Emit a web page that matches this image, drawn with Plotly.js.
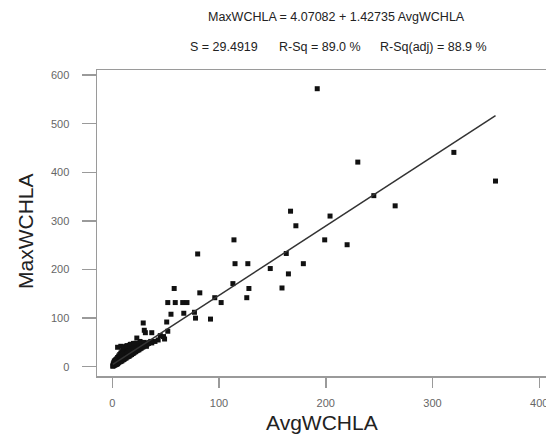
<!DOCTYPE html>
<html>
<head>
<meta charset="utf-8">
<script src="https://cdn.plot.ly/plotly-3.0.1.min.js"></script>
<style>
  html, body { margin: 0; padding: 0; background: #fff; }
  #chart { width: 546px; height: 434px; }
</style>
</head>
<body>
<div id="chart"></div>
<script>
// Observed chlorophyll-a: average vs. maximum per site
const avgWCHLA = [
  // larger values
  192, 230, 245, 320, 359, 265, 167, 204, 172, 114, 199, 220, 80, 163,
  115, 127, 179, 148, 165, 113, 58, 128, 159, 82, 96, 126,
  52, 59, 66, 70, 102, 55, 67, 77, 78, 92, 51, 52,
  29, 30, 31, 37, 23, 45, 49, 43, 40, 37, 32, 48, 26,
  // dense low-range cluster
  0.5, 0.8, 1, 1, 1.5, 1.5, 2, 2, 2, 2.5, 2.5, 3, 3, 3, 3.5, 3.5,
  4, 4, 4, 4.5, 4.5, 5, 5, 5, 5.5, 5.5, 6, 6, 6, 6.5, 6.5,
  7, 7, 7, 7.5, 7.5, 8, 8, 8, 8.5, 8.5, 9, 9, 9, 9.5, 9.5,
  10, 10, 10, 10.5, 10.5, 11, 11, 11, 11.5, 11.5, 12, 12, 12, 12.5, 12.5,
  13, 13, 13, 13.5, 13.5, 14, 14, 14, 15, 15, 15, 16, 16, 16,
  17, 17, 17, 18, 18, 18, 19, 19, 19, 20, 20, 20, 21, 21,
  22, 22, 22, 23, 23, 24, 24, 25, 25, 26, 26, 27, 27, 28, 28,
  29, 30, 30, 31, 32, 33, 34, 35, 36,
  5, 8, 11, 14, 17, 20
];
const maxWCHLA = [
  572, 421, 352, 441, 382, 331, 320, 310, 290, 261, 261, 251, 232, 233,
  212, 212, 212, 202, 191, 171, 161, 161, 162, 152, 142, 142,
  132, 132, 132, 132, 132, 108, 110, 112, 100, 98, 92, 73,
  90, 75, 70, 70, 59, 64, 57, 55, 52, 49, 42, 62, 52,
  1, 3, 2, 6, 4, 9, 3, 7, 12, 5, 10, 4, 8, 14, 6, 11,
  5, 9, 16, 7, 13, 6, 10, 19, 8, 15, 9, 13, 22, 11, 17,
  10, 14, 25, 12, 19, 11, 16, 28, 13, 21, 12, 18, 31, 15, 24,
  14, 20, 34, 16, 27, 15, 22, 37, 18, 29, 17, 24, 40, 20, 31,
  18, 26, 42, 22, 34, 20, 28, 43, 21, 30, 38, 22, 32, 44,
  24, 35, 41, 25, 37, 46, 27, 33, 44, 28, 38, 47, 30, 42,
  31, 36, 48, 33, 44, 34, 40, 35, 47, 37, 43, 38, 49, 40, 45,
  41, 43, 50, 44, 46, 47, 48, 50, 52,
  40, 42, 41, 43, 46, 48
];

// Least-squares fit reported for these data
const fitIntercept = 4.07082;
const fitSlope = 1.42735;
const fitTitle = "MaxWCHLA = 4.07082 + 1.42735 AvgWCHLA";
const fitStats = ["S = 29.4919", "R-Sq = 89.0 %", "R-Sq(adj) = 88.9 %"];

const xTicks = [0, 100, 200, 300, 400];
const yTicks = [0, 100, 200, 300, 400, 500, 600];

const xMin = Math.min(...avgWCHLA);
const xMax = Math.max(...avgWCHLA);
const lineX = [xMin, xMax];
const lineY = lineX.map(v => fitIntercept + fitSlope * v);

const FONT = "Arial, 'Liberation Sans', sans-serif";
const FRAME = "#9a9a9a";

const traces = [
  {
    type: "scatter", mode: "markers",
    x: avgWCHLA, y: maxWCHLA,
    marker: { symbol: "square", size: 5, color: "#111" },
    hoverinfo: "x+y"
  },
  {
    type: "scatter", mode: "lines",
    x: lineX, y: lineY,
    line: { color: "#333", width: 1.5 },
    hoverinfo: "skip"
  }
];

// plot area spans x 97..546 px, y 70..376 px
const L = 97, R = 546, T = 70, B = 376;
const px = v => (v - L) / (R - L);
const py = v => (B - v) / (B - T);

const annotations = [
  { text: fitTitle, x: px(336), y: py(17), xanchor: "center", yanchor: "middle",
    font: { size: 12.5, color: "#222", family: FONT } },
  { text: fitStats[0], x: px(188), y: py(47), xanchor: "left", yanchor: "middle",
    font: { size: 12.5, color: "#222", family: FONT } },
  { text: fitStats[1], x: px(277), y: py(47), xanchor: "left", yanchor: "middle",
    font: { size: 12.5, color: "#222", family: FONT } },
  { text: fitStats[2], x: px(378), y: py(47), xanchor: "left", yanchor: "middle",
    font: { size: 12.5, color: "#222", family: FONT } },
  { text: "AvgWCHLA", x: px(322), y: py(423), xanchor: "center", yanchor: "middle",
    font: { size: 21, color: "#222", family: FONT } },
  { text: "MaxWCHLA", x: px(25), y: py(231), xanchor: "center", yanchor: "middle",
    textangle: -90, font: { size: 21, color: "#222", family: FONT } }
].map(a => Object.assign({ xref: "paper", yref: "paper", showarrow: false }, a));

const layout = {
  width: 546, height: 434,
  margin: { l: L, r: 546 - R, t: T, b: 434 - B, pad: 0 },
  paper_bgcolor: "#fff", plot_bgcolor: "#fff",
  showlegend: false,
  font: { family: FONT },
  xaxis: {
    range: [-14.3, 406.3], tickvals: xTicks, ticktext: xTicks.map(String),
    ticks: "outside", ticklen: 10, tickwidth: 1.5, tickcolor: FRAME,
    showline: true, linecolor: FRAME, linewidth: 1.5, mirror: true,
    showgrid: false, zeroline: false, ticklabelstandoff: 6,
    ticklabeloverflow: "allow",
    tickfont: { size: 11, color: "#666", family: FONT }
  },
  yaxis: {
    range: [-19.1, 610.5], tickvals: yTicks, ticktext: yTicks.map(String),
    ticks: "outside", ticklen: 14, tickwidth: 1.5, tickcolor: FRAME,
    showline: true, linecolor: FRAME, linewidth: 1.5, mirror: false,
    showgrid: false, zeroline: false, ticklabelstandoff: 10,
    tickfont: { size: 11, color: "#666", family: FONT }
  },
  annotations: annotations
};

Plotly.newPlot("chart", traces, layout, { staticPlot: true, displayModeBar: false });
</script>
</body>
</html>
